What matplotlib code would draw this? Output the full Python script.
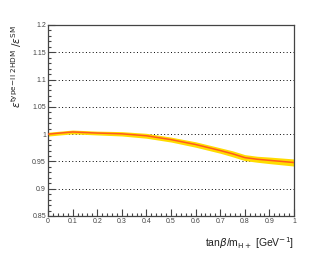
import numpy as np
import matplotlib
matplotlib.use("Agg")
import matplotlib.pyplot as plt
from matplotlib.ticker import MultipleLocator

# ratio of efficiencies vs tan(beta)/m_H+
x_vals = [0.0, 0.05, 0.1, 0.15, 0.2, 0.3, 0.4, 0.5, 0.6, 0.7, 0.75, 0.8, 0.85, 0.9, 1.0]
ratio = [1.000, 1.002, 1.004, 1.003, 1.002, 1.0006, 0.997, 0.990, 0.981, 0.970, 0.964, 0.957, 0.954, 0.952, 0.948]
band = [0.0035, 0.0035, 0.0035, 0.0035, 0.0035, 0.004, 0.0045, 0.0045, 0.005, 0.005, 0.0055, 0.0055, 0.0055, 0.006, 0.0065]

x = np.array(x_vals)
y = np.array(ratio)
dy = np.array(band)

plt.rcParams["font.family"] = ["Liberation Sans", "DejaVu Sans"]

fig = plt.figure(figsize=(3.27, 2.54), dpi=100)
ax = fig.add_axes([48 / 327, 1 - 216 / 254, 246 / 327, 191 / 254])

ax.fill_between(x, y - dy, y + dy, color="#ffdc00", lw=0, zorder=2)
ax.plot(x, y, color="#ff5a1e", lw=1.1, zorder=3)

for g in [0.9, 0.95, 1.0, 1.05, 1.1, 1.15]:
    ax.axhline(g, color="black", lw=0.7, ls=(0, (1, 2.5)), zorder=1)

ax.set_xlim(0, 1)
ax.set_ylim(0.85, 1.2)
ax.xaxis.set_major_locator(MultipleLocator(0.1))
ax.xaxis.set_minor_locator(MultipleLocator(0.02))
ax.yaxis.set_major_locator(MultipleLocator(0.05))
ax.yaxis.set_minor_locator(MultipleLocator(0.01))
ax.xaxis.set_major_formatter(plt.FuncFormatter(lambda v, p: f"{v:g}"))
ax.yaxis.set_major_formatter(plt.FuncFormatter(lambda v, p: f"{round(v, 2):g}"))

ax.tick_params(which="both", direction="in", colors="#444444", labelsize=5, width=0.8)
ax.tick_params(which="major", length=5, pad=1.5)
ax.tick_params(which="minor", length=2.5)
for s in ax.spines.values():
    s.set_color("#444444")
    s.set_linewidth(0.9)

ax.set_ylabel(r"$\varepsilon^{\mathrm{type\!-\!II\ 2HDM}}\ /\varepsilon^{\mathrm{SM}}$",
              fontsize=7.5, loc="top", labelpad=6, color="#222222")
ax.set_xlabel(r"tan$\beta$/m$_{\mathrm{H+}}$ [GeV$^{-1}$]", fontsize=7.5,
              loc="right", labelpad=7, color="#222222")

fig.savefig("out.png", dpi=100)
